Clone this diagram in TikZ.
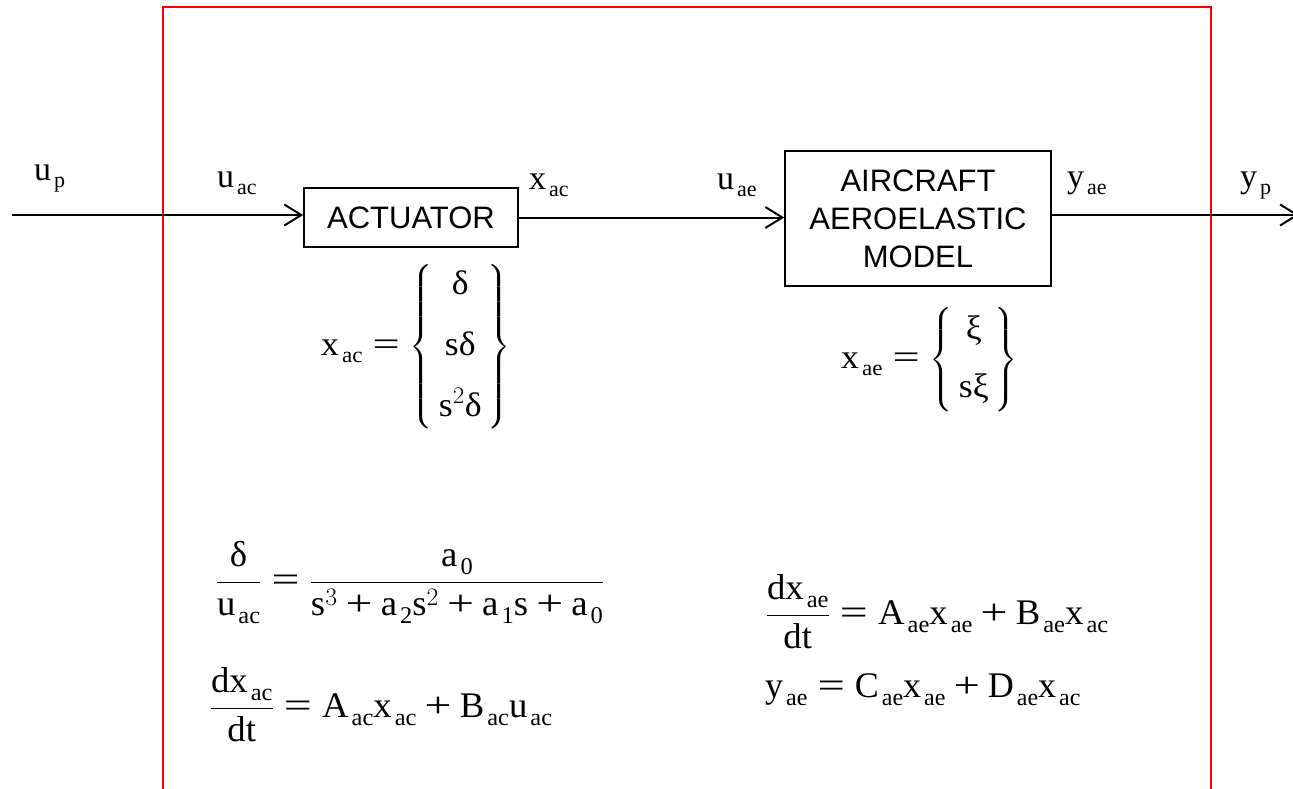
\RequirePackage{fix-cm}
\documentclass[tikz,border=0pt]{standalone}
\usepackage{amsmath}
\usepackage{graphicx}
\usepackage{fontspec}
\setmainfont{Liberation Serif}
\newfontfamily\arialf{Liberation Sans}
\usetikzlibrary{arrows.meta}
% label-size subscript
\newcommand\subl[2]{#1\kern3pt\raisebox{-7pt}{\fontsize{22}{22}\selectfont #2}}
% equation-size subscript
\newcommand\subq[2]{#1\kern3pt\raisebox{-8pt}{\fontsize{24}{24}\selectfont #2}}
\newcommand\tx[1]{\text{#1}}
\newcommand\EQ{\mathrel{\text{\scalebox{1.35}[1]{=}}}}
\newcommand\PL{\mathbin{\text{\scalebox{1.3}[1]{+}}}}
\tikzset{
  blk/.style={draw, line width=1.6pt, inner sep=0pt, font=\arialf\fontsize{31}{38}\selectfont, align=center},
  lbl/.style={inner sep=0pt, anchor=base west, font=\fontsize{34}{40}\selectfont},
  mtx/.style={inner sep=0pt, font=\fontsize{34}{40}\selectfont},
  eqn/.style={inner sep=0pt, font=\fontsize{36}{42}\selectfont},
  sig/.style={line width=2pt, -{Straight Barb[length=17pt,width=21pt,line width=2pt]}},
  frame/.style={draw=red, line width=2pt}
}
\begin{document}
\begin{tikzpicture}[x=1pt,y=-1pt]
\useasboundingbox (0,0) rectangle (1293,789);
\draw[frame] (163,789) -- (163,7) -- (1211,7) -- (1211,789);
\node[blk, minimum width=214pt, minimum height=59pt] (act) at (411,217.5) {ACTUATOR};
\node[blk, minimum width=266pt, minimum height=135pt] (acm) at (918,218.5) {AIRCRAFT\\AEROELASTIC\\MODEL};
\coordinate (in) at (12,215);
\coordinate (out) at (1299,215);
\draw[sig] (in) -- (in -| act.west);
\draw[sig] (act.east) -- (act.east -| acm.west);
\draw[sig] (acm.east |- out) -- (out);
\node[lbl] (up) at (34,180) {\subl{u}{p}};
\node[lbl] (uac) at (217,187) {\subl{u}{ac}};
\node[lbl] (xac) at (529,189) {\subl{x}{ac}};
\node[lbl] (uae) at (717,189) {\subl{u}{ae}};
\node[lbl] (yae) at (1067,187) {\subl{y}{ae}};
\node[lbl] (yp) at (1240,187) {\subl{y}{p}};
\node[mtx, anchor=west] (mac) at (321,347) {\scalebox{1.05}[1]{$\tx{\subl{x}{ac}}\EQ\left\{\,\begin{matrix}\tx{δ}\\[21pt]\tx{sδ}\\[21pt]\tx{s}^{2}\tx{δ}\end{matrix}\,\right\}$}};
\node[mtx, anchor=west] (mae) at (841,360) {\scalebox{1.05}[1]{$\tx{\subl{x}{ae}}\EQ\left\{\,\begin{matrix}\tx{ξ}\\[18pt]\tx{sξ}\end{matrix}\,\right\}$}};
\node[eqn] (eq1) at (410,583) {\scalebox{1.02}[1]{$\dfrac{\tx{δ}}{\tx{\subq{u}{ac}}}\EQ\dfrac{\tx{\subq{a}{0}}}{\tx{s}^{3}\PL\tx{\subq{a}{2}}\tx{s}^{2}\PL\tx{\subq{a}{1}}\tx{s}\PL\tx{\subq{a}{0}}}$}};
\node[eqn] (eq2) at (381,705) {\scalebox{1.02}[1]{$\dfrac{\tx{d\subq{x}{ac}}}{\tx{dt}}\EQ\tx{\subq{A}{ac}\subq{x}{ac}}\PL\tx{\subq{B}{ac}\subq{u}{ac}}$}};
\node[eqn] (eq3) at (937,612) {\scalebox{1.02}[1]{$\dfrac{\tx{d\subq{x}{ae}}}{\tx{dt}}\EQ\tx{\subq{A}{ae}\subq{x}{ae}}\PL\tx{\subq{B}{ae}\subq{x}{ac}}$}};
\node[eqn, anchor=base west] (eq4) at (765,697) {$\tx{\subq{y}{ae}}\EQ\tx{\subq{C}{ae}\subq{x}{ae}}\PL\tx{\subq{D}{ae}\subq{x}{ac}}$};
\end{tikzpicture}
\end{document}
